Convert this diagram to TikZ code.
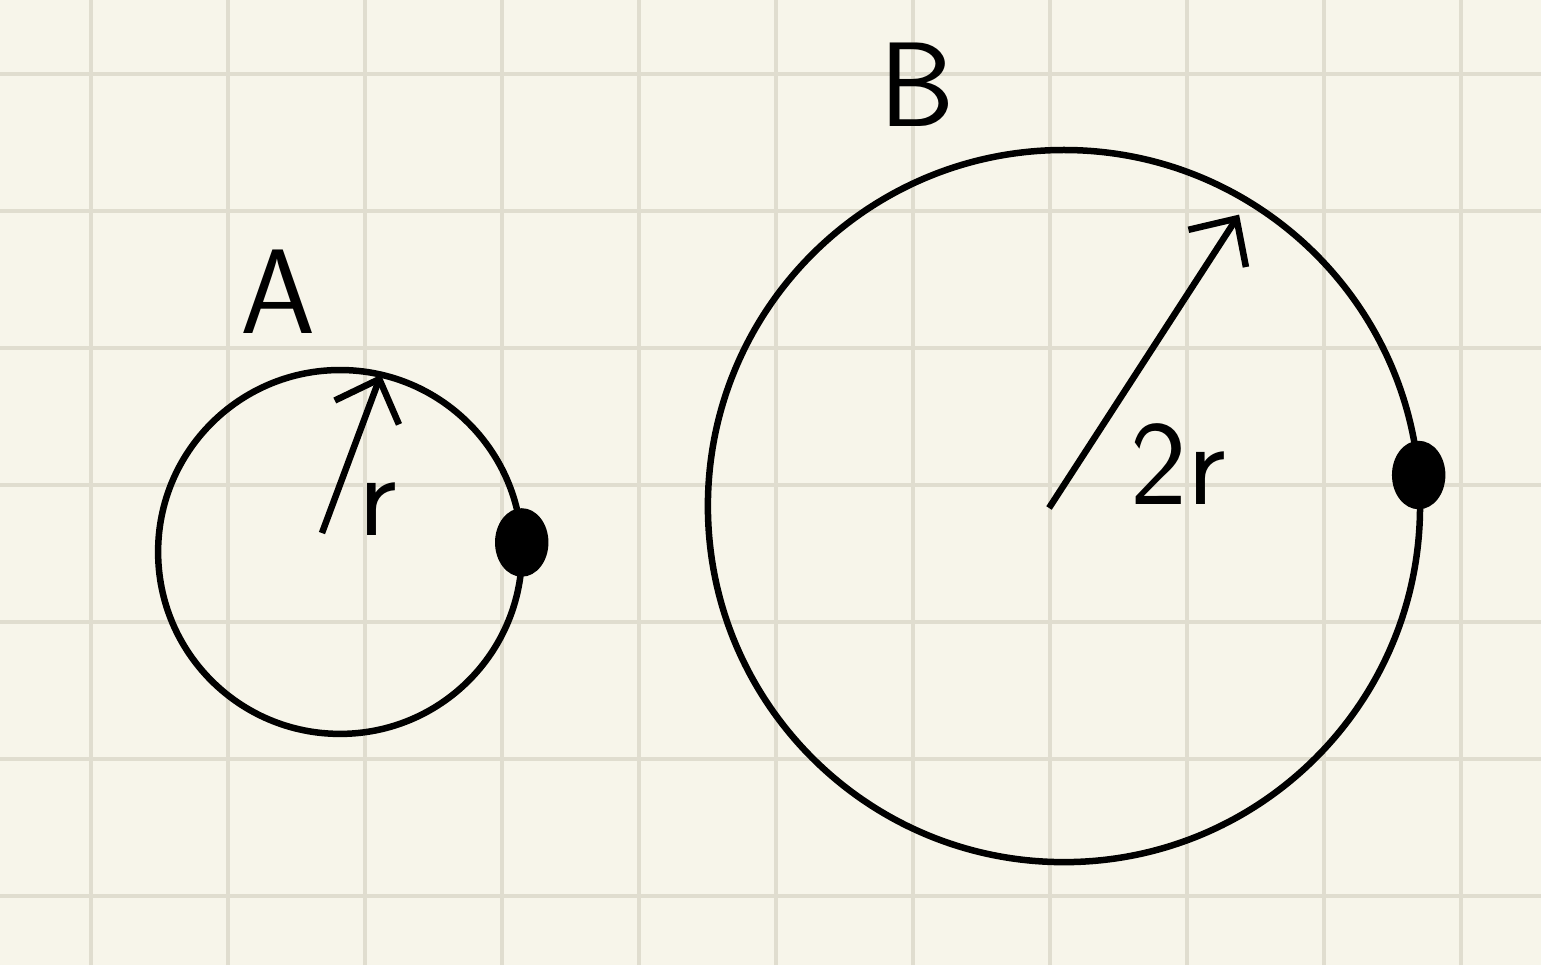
\documentclass[tikz,border=0pt]{standalone}
\usepackage{xcolor}
\usetikzlibrary{arrows.meta,shapes.geometric,calc}
\definecolor{paper}{HTML}{F7F5EA}
\definecolor{gridline}{HTML}{E0DDCF}

\begin{document}
\begin{tikzpicture}[>={Straight Barb[length=2.6mm,width=5mm]},line width=1.35pt,
 ring/.style={circle,draw,inner sep=0pt,outer sep=0pt},
 blob/.style={ellipse,fill,inner sep=0pt,minimum width=3.9mm,minimum height=5mm},
 lbl/.style={font=\sffamily\fontsize{25}{30}\selectfont}]
 \fill[paper] (0,0) rectangle (11.248,7.044);
 \useasboundingbox (0,0) rectangle (11.248,7.044);
 \foreach \x in {0,...,10}
 \draw[gridline,line width=0.8pt] (0.664+\x,0) -- (0.664+\x,7.044);
 \foreach \y in {0,...,6}
 \draw[gridline,line width=0.8pt] (0,0.504+\y) -- (11.248,0.504+\y);
 % circles
 \node[ring,minimum size=2.656cm] (ringA) at (2.482,3.015) {};
 \node[ring,minimum size=5.198cm] (ringB) at (7.766,3.350) {};
 \node[blob] (dotA) at (ringA.3) {};
 \node[blob] (dotB) at (ringB.5) {};
 % radii
 \coordinate (startA) at (2.350,3.153);
 \coordinate (startB) at (7.657,3.336);
 \draw[->] (startA) -- (ringA.77);
 \draw[->] (startB) -- ($(ringB.center)!0.955!(ringB.59)$);
 % labels
 \node[lbl] (labA) at (2.029,4.912) {A};
 \node[lbl] (labB) at (6.693,6.423) {B};
 \node[lbl] (labr) at (2.76,3.33) {r};
 \node[lbl] (lab2r) at (8.60,3.66) {2r};
\end{tikzpicture}
\end{document}
